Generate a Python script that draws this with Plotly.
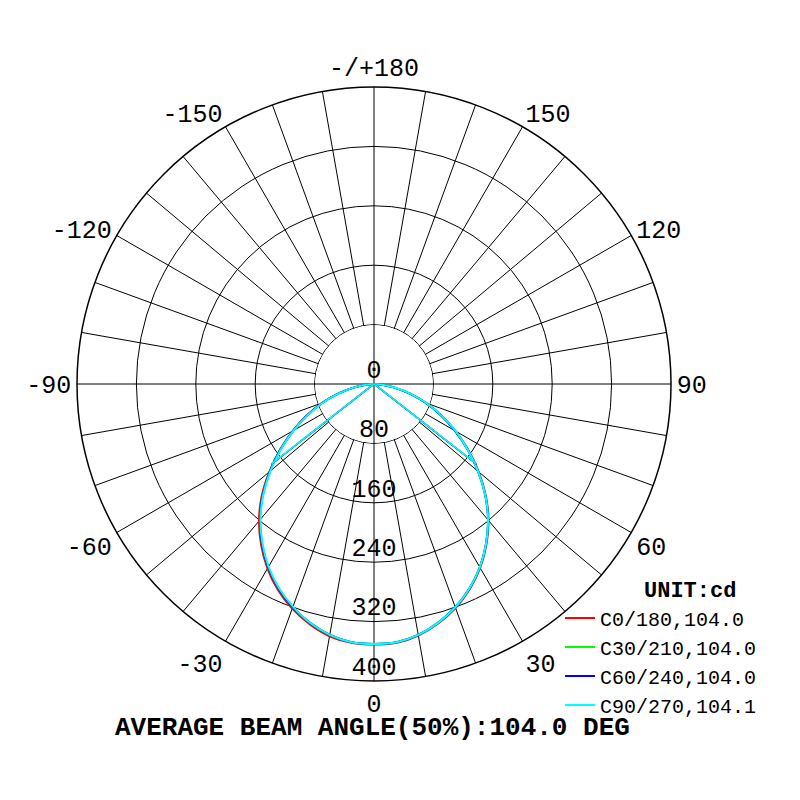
import numpy as np
import plotly.graph_objects as go

# gamma angles 0..90 deg, candela per half plane
gamma = [0, 5, 10, 15, 20, 25, 30, 35, 40, 45, 50, 55, 60, 65, 70, 75, 80, 85, 90]

c0 = [351, 350, 344, 334, 321, 305, 286, 264, 240, 213, 184, 155, 127, 100, 75, 50, 28, 11, 0]
c180 = [351, 350, 345, 335, 322, 306, 287, 265, 241, 214, 184, 154, 126, 99, 74, 49, 28, 11, 0]
c30 = [350, 349, 343, 333, 320, 304, 285, 263, 239, 212, 183, 154, 126, 99, 74, 50, 28, 11, 0]
c210 = [350, 349, 343, 333, 320, 304, 285, 263, 239, 212, 183, 154, 125, 98, 73, 49, 28, 11, 0]
c60 = [350, 349, 343, 333, 320, 304, 285, 263, 239, 212, 183, 154, 126, 99, 74, 50, 28, 11, 0]
c240 = [350, 349, 343, 333, 320, 304, 285, 263, 239, 212, 183, 154, 126, 99, 74, 50, 28, 11, 0]
c90 = [350, 349, 343, 333, 320, 304, 285, 263, 239, 212, 183, 154, 127, 100, 75, 51, 29, 11, 0]
c270 = [350, 349, 343, 333, 319, 303, 284, 262, 238, 211, 182, 153, 125, 98, 73, 49, 28, 11, 0]

planes = [
    ("C0/180,104.0", c0, c180, 52.0, "#ff0000"),
    ("C30/210,104.0", c30, c210, 52.0, "#00ff00"),
    ("C60/240,104.0", c60, c240, 52.0, "#0000ff"),
    ("C90/270,104.1", c90, c270, 52.05, "#00ffff"),
]

r_ticks = [0, 80, 160, 240, 320, 400]
ang_labels = {0: "0", 30: "30", 60: "60", 90: "90", 120: "120", 150: "150",
              180: "-/+180", 210: "-150", 240: "-120", 270: "-90", 300: "-60", 330: "-30"}

FONT = "Liberation Mono"

fig = go.Figure()

# blank the spokes inside the first ring
ring = np.arange(0, 361, 2)
fig.add_trace(go.Scatterpolar(
    r=[79.3] * len(ring), theta=ring, mode='lines', fill='toself',
    fillcolor='white', line=dict(width=0, color='white'),
    showlegend=False, hoverinfo='skip',
))
# the two axes that run through the centre
for a, b in [(0, 180), (90, 270)]:
    fig.add_trace(go.Scatterpolar(
        r=[80, 0, 80], theta=[a, a, b], mode='lines',
        line=dict(color='black', width=1),
        showlegend=False, hoverinfo='skip',
    ))

for name, right, left, half_ang, color in planes:
    theta = [-g for g in gamma[::-1]] + gamma[1:]
    r = left[::-1] + right[1:]
    fig.add_trace(go.Scatterpolar(
        r=r, theta=theta, mode='lines',
        line=dict(color=color, width=2, shape='spline'),
        name=name,
    ))

for name, right, left, half_ang, color in planes:
    half = max(right[0], left[0]) / 2
    fig.add_trace(go.Scatterpolar(
        r=[half, 0, half], theta=[-half_ang, 0, half_ang], mode='lines',
        line=dict(color=color, width=1.5),
        showlegend=False, hoverinfo='skip',
    ))

# radial labels along the 0 deg direction
fig.add_trace(go.Scatterpolar(
    r=r_ticks, theta=[0] * len(r_ticks), mode='text',
    text=[str(v) for v in r_ticks], textposition='top center',
    textfont=dict(family=FONT, size=25, color='black'),
    showlegend=False, hoverinfo='skip',
))

tickvals = list(range(0, 360, 10))
fig.update_layout(
    width=800, height=800,
    margin=dict(l=0, r=0, t=0, b=0),
    paper_bgcolor='white',
    showlegend=True,
    polar=dict(
        domain=dict(x=[0.08625, 0.82875], y=[0.15875, 0.90125]),
        bgcolor='white',
        angularaxis=dict(
            rotation=-90, direction='counterclockwise',
            tickmode='array', tickvals=tickvals,
            ticktext=[ang_labels.get(v, "") for v in tickvals],
            ticks='', showline=True, linecolor='black', linewidth=1.5,
            gridcolor='black', gridwidth=1,
            tickfont=dict(family=FONT, size=25, color='black'),
        ),
        radialaxis=dict(
            range=[0, 400], tickmode='array', tickvals=r_ticks,
            showticklabels=False, ticks='', showline=False,
            gridcolor='black', gridwidth=1.2, angle=-90,
        ),
    ),
    legend=dict(
        x=0.69, y=0.262, xanchor='left', yanchor='top',
        bgcolor='rgba(0,0,0,0)', itemwidth=30,
        font=dict(family=FONT, size=20, color='black'),
    ),
    annotations=[
        dict(
            text="<b>UNIT:cd</b>",
            x=0.8525, y=0.27125, xref='paper', yref='paper',
            showarrow=False, xanchor='center', yanchor='middle',
            font=dict(family=FONT, size=22, color='black'),
        ),
        dict(
            text="<b>AVERAGE BEAM ANGLE(50%):104.0 DEG</b>",
            x=0.4556, y=0.1005, xref='paper', yref='paper',
            showarrow=False, xanchor='center', yanchor='middle',
            font=dict(family=FONT, size=26, color='black'),
        ),
    ],
)

fig.write_html("out.html")
